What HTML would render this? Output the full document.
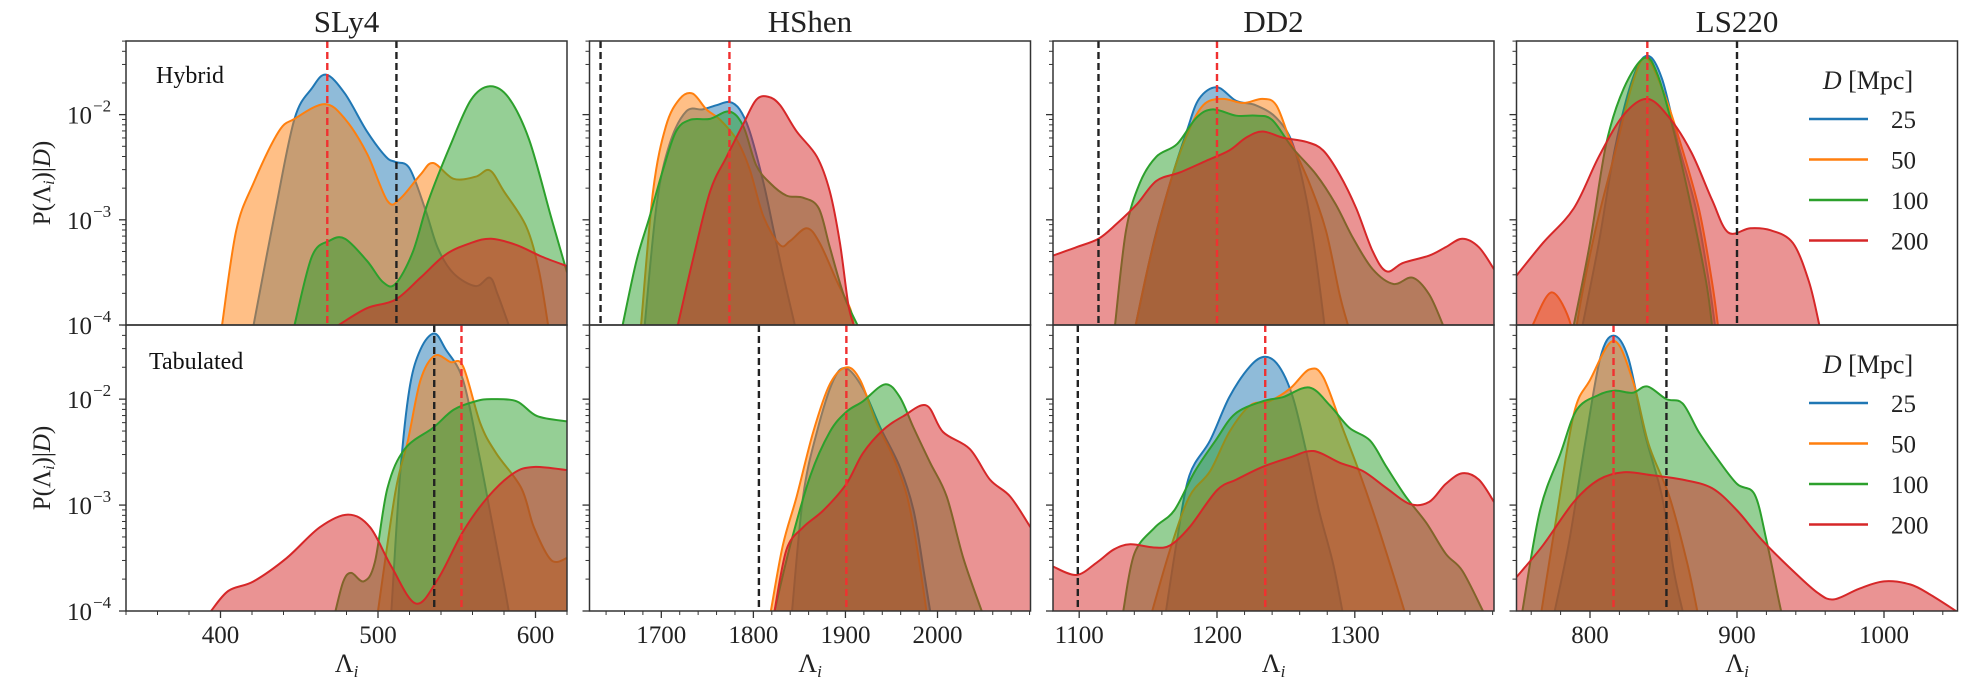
<!DOCTYPE html>
<html><head><meta charset="utf-8">
<style>
html,body{margin:0;padding:0;background:#fff;}
svg{display:block;font-family:"Liberation Serif",serif;}
</style></head>
<body>
<svg id="fig" width="1980" height="678" viewBox="0 0 1980 678" xmlns="http://www.w3.org/2000/svg"></svg>
<script>
// ---------- data (Lambda, log10 P) ----------
const eosNames = ["SLy4","HShen","DD2","LS220"];
const rowNames = ["Hybrid","Tabulated"];
const distances = ["25","50","100","200"];
const xDomains = [[340,620],[1622,2101],[1081,1401],[750,1050]];
const xTickValues = [[400,500,600],[1700,1800,1900,2000],[1100,1200,1300],[800,900,1000]];
const yTickExps = [-2,-3,-4];

// SLy4 Hybrid
const sly4H_25 = [[421,-4.0],[435,-2.9],[447,-2.04],[458,-1.75],[467,-1.62],[479,-1.80],[493,-2.16],[505,-2.4],[511,-2.45],[520,-2.51],[530,-2.9],[538,-3.27],[548,-3.51],[562,-3.63],[571,-3.55],[576,-3.71],[583,-4.0]];
const sly4H_50 = [[401,-4.0],[410,-3.1],[421,-2.65],[437,-2.16],[447,-2.04],[466,-1.90],[479,-2.04],[493,-2.37],[506,-2.82],[514,-2.80],[527,-2.57],[535,-2.46],[548,-2.61],[562,-2.59],[571,-2.53],[580,-2.73],[594,-3.06],[602,-3.47],[608,-4.0]];
const sly4H_100 = [[447,-4.0],[458,-3.35],[469,-3.20],[479,-3.18],[493,-3.39],[503,-3.59],[511,-3.61],[522,-3.31],[532,-2.82],[546,-2.29],[559,-1.86],[571,-1.73],[583,-1.84],[596,-2.24],[610,-2.98],[620,-3.50]];
const sly4H_200 = [[475,-4.0],[493,-3.84],[511,-3.76],[527,-3.55],[543,-3.33],[559,-3.22],[572,-3.18],[588,-3.24],[604,-3.35],[620,-3.44]];
// SLy4 Tabulated
const sly4T_25 = [[508.5,-4.0],[514,-2.72],[520,-1.90],[527,-1.53],[535.7,-1.38],[543,-1.53],[554,-1.82],[564,-2.51],[572,-3.13],[580,-3.75],[583,-4.0]];
const sly4T_50 = [[500,-4.0],[511,-2.88],[519,-2.39],[527,-1.82],[536,-1.59],[546,-1.65],[554,-1.69],[565,-2.23],[575,-2.51],[591,-2.84],[599,-3.21],[610,-3.52],[620,-3.50]];
const sly4T_100 = [[473,-4.0],[478,-3.72],[483,-3.64],[491,-3.72],[498,-3.54],[506,-2.84],[517,-2.47],[535,-2.27],[548,-2.10],[562,-2.02],[572,-2.00],[588,-2.02],[601,-2.16],[620,-2.21]];
const sly4T_200 = [[394,-4.0],[405,-3.81],[421,-3.72],[442,-3.50],[463,-3.21],[481,-3.09],[495,-3.21],[508.5,-3.58],[524,-3.93],[538,-3.70],[554,-3.25],[570,-2.92],[586,-2.70],[599,-2.64],[620,-2.67]];
// HShen Hybrid
const hshenH_25 = [[1682,-4.0],[1695,-2.85],[1709,-2.28],[1727,-1.97],[1745,-1.95],[1760,-1.91],[1774,-1.88],[1785,-1.95],[1796,-2.16],[1811,-2.65],[1822,-3.10],[1832,-3.51],[1845,-4.0]];
const hshenH_50 = [[1678,-4.0],[1691,-2.73],[1705,-2.11],[1720,-1.85],[1734,-1.80],[1749,-1.95],[1764,-2.05],[1782,-2.24],[1796,-2.52],[1811,-2.97],[1829,-3.24],[1840,-3.20],[1858,-3.08],[1872,-3.22],[1891,-3.59],[1905,-3.84],[1909,-4.0]];
const hshenH_100 = [[1658,-4.0],[1673,-3.39],[1687,-2.98],[1702,-2.52],[1716,-2.16],[1731,-2.05],[1753,-2.04],[1774,-1.97],[1789,-2.11],[1803,-2.48],[1818,-2.65],[1836,-2.77],[1854,-2.79],[1871,-2.89],[1883,-3.26],[1898,-3.71],[1913,-4.0]];
const hshenH_200 = [[1718,-4.0],[1734,-3.39],[1753,-2.73],[1771,-2.40],[1789,-2.09],[1803,-1.86],[1816,-1.83],[1829,-1.91],[1847,-2.16],[1869,-2.40],[1883,-2.73],[1894,-3.22],[1903,-3.80],[1909,-4.0]];
// HShen Tabulated
const hshenT_25 = [[1842,-4.0],[1854,-2.92],[1869,-2.31],[1887,-1.82],[1901,-1.71],[1919,-1.90],[1938,-2.27],[1959,-2.64],[1974,-3.05],[1985,-3.62],[1992,-4.0]];
const hshenT_50 = [[1819,-4.0],[1832,-3.38],[1847,-2.92],[1865,-2.31],[1883,-1.86],[1901,-1.70],[1916,-1.82],[1934,-2.23],[1952,-2.55],[1967,-2.92],[1978,-3.42],[1988,-4.0]];
const hshenT_100 = [[1823,-4.0],[1840,-3.38],[1862,-2.72],[1883,-2.31],[1901,-2.12],[1919,-2.02],[1943,-1.86],[1959,-1.98],[1974,-2.27],[1992,-2.60],[2010,-2.92],[2028,-3.50],[2048,-4.0]];
const hshenT_200 = [[1823,-4.0],[1836,-3.42],[1854,-3.21],[1876,-3.05],[1901,-2.80],[1919,-2.51],[1941,-2.29],[1963,-2.16],[1988,-2.06],[2006,-2.31],[2035,-2.47],[2057,-2.76],[2079,-2.92],[2101,-3.21]];
// DD2 Hybrid
const dd2H_25 = [[1141,-4.0],[1154,-3.22],[1166,-2.65],[1178,-2.16],[1187,-1.85],[1200,-1.74],[1214,-1.87],[1228,-1.91],[1243,-2.03],[1255,-2.28],[1265,-2.81],[1272,-3.39],[1278,-4.0]];
const dd2H_50 = [[1141,-4.0],[1151,-3.39],[1166,-2.65],[1178,-2.20],[1190,-1.91],[1204,-1.85],[1219,-1.89],[1233,-1.85],[1243,-1.91],[1253,-2.24],[1267,-2.65],[1279,-3.10],[1289,-3.71],[1295,-4.0]];
const dd2H_100 = [[1126,-4.0],[1134,-3.10],[1144,-2.65],[1156,-2.40],[1171,-2.28],[1185,-2.03],[1197,-1.95],[1214,-2.01],[1228,-2.01],[1240,-2.05],[1255,-2.32],[1272,-2.57],[1286,-2.85],[1299,-3.18],[1313,-3.47],[1328,-3.61],[1342,-3.55],[1354,-3.71],[1364,-4.0]];
const dd2H_200 = [[1081,-3.34],[1098,-3.26],[1114,-3.18],[1127,-3.04],[1142,-2.85],[1156,-2.63],[1173,-2.55],[1192,-2.44],[1209,-2.34],[1221,-2.22],[1233,-2.16],[1248,-2.22],[1265,-2.26],[1277,-2.34],[1289,-2.57],[1301,-2.89],[1313,-3.30],[1323,-3.49],[1335,-3.41],[1354,-3.34],[1366,-3.26],[1378,-3.18],[1390,-3.26],[1401,-3.47]];
// DD2 Tabulated
const dd2T_25 = [[1163,-4.0],[1171,-3.33],[1180,-2.72],[1195,-2.39],[1209,-1.98],[1224,-1.69],[1235,-1.60],[1245,-1.69],[1255,-1.98],[1265,-2.51],[1274,-3.05],[1284,-3.54],[1291,-4.0]];
const dd2T_50 = [[1153,-4.0],[1166,-3.42],[1180,-2.92],[1195,-2.68],[1209,-2.31],[1224,-2.06],[1238,-2.02],[1253,-1.90],[1267,-1.72],[1277,-1.79],[1291,-2.27],[1303,-2.68],[1315,-3.13],[1328,-3.66],[1336,-4.0]];
const dd2T_100 = [[1132,-4.0],[1140,-3.46],[1155,-3.21],[1169,-3.05],[1184,-2.68],[1199,-2.39],[1213,-2.14],[1233,-2.02],[1248,-1.98],[1267,-1.89],[1282,-2.06],[1296,-2.27],[1311,-2.39],[1323,-2.64],[1337,-2.92],[1352,-3.17],[1366,-3.46],[1378,-3.62],[1393,-4.0]];
const dd2T_200 = [[1081,-3.58],[1098,-3.66],[1113,-3.54],[1125,-3.42],[1137,-3.37],[1154,-3.40],[1166,-3.38],[1180,-3.21],[1200,-2.86],[1214,-2.76],[1233,-2.64],[1253,-2.55],[1270,-2.49],[1289,-2.60],[1306,-2.68],[1323,-2.84],[1340,-2.99],[1354,-2.97],[1366,-2.80],[1378,-2.70],[1390,-2.76],[1401,-2.97]];
// LS220 Hybrid
const ls220H_25 = [[795,-4.0],[806,-3.22],[817,-2.32],[829,-1.66],[839,-1.44],[849,-1.66],[860,-2.28],[872,-2.89],[880,-3.51],[885,-4.0]];
const ls220H_50 = [[761,-4.0],[774,-3.69],[787,-4.0],[789,-4.4],[791,-4.0],[803,-3.14],[817,-2.36],[829,-1.70],[838,-1.46],[849,-1.75],[860,-2.20],[874,-2.89],[883,-3.59],[887,-4.0]];
const ls220H_100 = [[789,-4.0],[800,-3.22],[811,-2.28],[823,-1.75],[837,-1.46],[846,-1.62],[857,-2.16],[869,-2.89],[879,-3.59],[883,-4.0]];
const ls220H_200 = [[750,-3.53],[768,-3.22],[789,-2.89],[806,-2.40],[823,-2.0],[839,-1.85],[854,-2.03],[869,-2.36],[883,-2.81],[894,-3.12],[909,-3.08],[923,-3.10],[938,-3.22],[949,-3.59],[956,-4.0]];
// LS220 Tabulated
const ls220T_25 = [[776,-4.0],[786,-3.33],[797,-2.39],[807,-1.61],[816,-1.40],[826,-1.61],[837,-2.31],[849,-2.92],[857,-3.62],[863,-4.0]];
const ls220T_50 = [[767,-4.0],[777,-3.13],[789,-2.14],[800,-1.82],[816,-1.45],[829,-1.82],[840,-2.43],[854,-2.92],[866,-3.54],[873,-4.0]];
const ls220T_100 = [[754,-4.0],[766,-3.05],[780,-2.51],[791,-2.10],[806,-1.96],[817,-1.92],[829,-1.94],[839,-1.88],[852,-2.0],[863,-2.04],[874,-2.31],[886,-2.55],[900,-2.80],[912,-2.90],[920,-3.33],[928,-3.87],[930,-4.0]];
const ls220T_200 = [[750,-3.68],[768,-3.38],[789,-2.97],[806,-2.76],[823,-2.69],[843,-2.72],[863,-2.76],[883,-2.84],[900,-3.05],[917,-3.33],[938,-3.62],[955,-3.83],[966,-3.89],[983,-3.79],[1000,-3.72],[1018,-3.75],[1032,-3.85],[1049,-4.0]];

const redLines = [[467.8,553],[1774,1901],[1200,1235],[839,816]];
const blackLines = [[511.7,535.7],[1634,1806],[1114,1099],[900,852]];

const seriesByPanel = [
  [[sly4H_25,sly4H_50,sly4H_100,sly4H_200],[sly4T_25,sly4T_50,sly4T_100,sly4T_200]],
  [[hshenH_25,hshenH_50,hshenH_100,hshenH_200],[hshenT_25,hshenT_50,hshenT_100,hshenT_200]],
  [[dd2H_25,dd2H_50,dd2H_100,dd2H_200],[dd2T_25,dd2T_50,dd2T_100,dd2T_200]],
  [[ls220H_25,ls220H_50,ls220H_100,ls220H_200],[ls220T_25,ls220T_50,ls220T_100,ls220T_200]]
];

// ---------- layout ----------
const NS = "http://www.w3.org/2000/svg";
const svg = document.getElementById('fig');
const colLeft = [126,589.5,1053,1516.5];
const panelW = 441;
const rowTop = [41,325];
const rowH = [284,286];
const yMinLog = -4, yMaxLog = -1.30;
const colors = ["#1f77b4","#ff7f0e","#2ca02c","#d62728"];

function mk(tag, attrs, parent){
  const e = document.createElementNS(NS, tag);
  for (const k in attrs) e.setAttribute(k, attrs[k]);
  (parent||svg).appendChild(e);
  return e;
}
function xScale(c, v){ const d=xDomains[c]; return colLeft[c] + (v-d[0])/(d[1]-d[0])*panelW; }
function yScale(r, lp){ return rowTop[r]+rowH[r] - (lp-yMinLog)/(yMaxLog-yMinLog)*rowH[r]; }

function smoothPath(pts){
  let d = "M"+pts[0][0].toFixed(2)+","+pts[0][1].toFixed(2);
  for (let i=0;i<pts.length-1;i++){
    const p0=pts[Math.max(0,i-1)], p1=pts[i], p2=pts[i+1], p3=pts[Math.min(pts.length-1,i+2)];
    const c1x=p1[0]+(p2[0]-p0[0])/6, c1y=p1[1]+(p2[1]-p0[1])/6;
    const c2x=p2[0]-(p3[0]-p1[0])/6, c2y=p2[1]-(p3[1]-p1[1])/6;
    d += " C"+c1x.toFixed(2)+","+c1y.toFixed(2)+" "+c2x.toFixed(2)+","+c2y.toFixed(2)+" "+p2[0].toFixed(2)+","+p2[1].toFixed(2);
  }
  return d;
}

const defs = mk('defs',{});
for (let c=0;c<4;c++){
  for (let r=0;r<2;r++){
    const cp = mk('clipPath',{id:'clip'+c+'_'+r}, defs);
    mk('rect',{x:colLeft[c],y:rowTop[r],width:panelW,height:rowH[r]}, cp);
    const g = mk('g',{'clip-path':'url(#clip'+c+'_'+r+')'});
    
    
    const series = seriesByPanel[c][r];
    const bottom = rowTop[r]+rowH[r]+2;
    for (let s=0;s<4;s++){
      const pts = series[s].map(p=>[xScale(c,p[0]), yScale(r,p[1])]);
      const line = smoothPath(pts);
      const fill = mk('path',{d: line+" L"+pts[pts.length-1][0].toFixed(2)+","+bottom+" L"+pts[0][0].toFixed(2)+","+bottom+" Z", fill:colors[s], 'fill-opacity':0.5, stroke:'none'}, g);
      
      
      const ln = mk('path',{d: line, fill:'none', stroke:colors[s], 'stroke-width':2}, g);
      
      
    }
    const rx = xScale(c, redLines[c][r]);
    const rl = mk('line',{x1:rx,x2:rx,y1:rowTop[r],y2:rowTop[r]+rowH[r],stroke:'#f03030','stroke-width':2.4,'stroke-dasharray':'7,4'}, g);
    
    
    const bx = xScale(c, blackLines[c][r]);
    const bl = mk('line',{x1:bx,x2:bx,y1:rowTop[r],y2:rowTop[r]+rowH[r],stroke:'#222','stroke-width':2.4,'stroke-dasharray':'7,4'}, g);
    
    

    for (let e=-4;e<=-2;e++){
      for (let m=1;m<=9;m++){
        const lp = e+Math.log10(m);
        if (lp>yMaxLog) continue;
        const y = yScale(r, lp);
        const t = mk('line',{x1:colLeft[c],x2:colLeft[c]-(m===1?7:4),y1:y,y2:y,stroke:'#333','stroke-width':m===1?1.3:1});
        
        
      }
    }
    const frame = mk('rect',{x:colLeft[c],y:rowTop[r],width:panelW,height:rowH[r],fill:'none',stroke:'#333','stroke-width':1.5});
    
    
  }
  const d = xDomains[c];
  const yb = rowTop[1]+rowH[1];
  for (let v=Math.ceil(d[0]/20)*20; v<=d[1]; v+=20){
    const major = xTickValues[c].indexOf(v)>=0;
    const x = xScale(c,v);
    const t = mk('line',{x1:x,x2:x,y1:yb,y2:yb+(major?7:4),stroke:'#333','stroke-width':major?1.3:1});
    
    
  }
  xTickValues[c].forEach(v=>{
    const t = mk('text',{x:xScale(c,v),y:643,'text-anchor':'middle','font-size':25,fill:'#222'});
    t.textContent = v;
    
    
  });
  const xl = mk('text',{x:colLeft[c]+panelW/2,y:672,'text-anchor':'middle','font-size':26,fill:'#222'});
  xl.innerHTML = 'Λ<tspan font-size="17" font-style="italic" dy="5">i</tspan>';
  
  
  const tt = mk('text',{x:colLeft[c]+panelW/2,y:32,'text-anchor':'middle','font-size':31,fill:'#222'});
  tt.textContent = eosNames[c];
  
  
}
for (let r=0;r<2;r++){
  yTickExps.forEach(e=>{
    const y = yScale(r,e);
    const t = mk('text',{x:92,y:y+9,'text-anchor':'end','font-size':25,fill:'#222'});
    t.textContent = '10';
    
    
    const s = mk('text',{x:93,y:y-3,'font-size':17,fill:'#222'});
    s.textContent = '−'+(-e);
    
    
  });
  const cy = rowTop[r]+rowH[r]/2;
  const yl = mk('text',{x:0,y:0,'text-anchor':'middle','font-size':25,fill:'#222',transform:'translate(50,'+cy+') rotate(-90)'});
  yl.innerHTML = 'P(Λ<tspan font-size="16" font-style="italic" dy="4">i</tspan><tspan dy="-4">)|</tspan><tspan font-style="italic">D</tspan>)';
  
  
  const rl = mk('text',{x:r===0?156:149,y:r===0?83:369,'font-size':24,fill:'#111'});
  rl.textContent = rowNames[r];
  
  
  const base = r===0?80:364;
  const lg = mk('g',{});
  
  
  const lt = mk('text',{x:1868,y:base+9,'text-anchor':'middle','font-size':26,fill:'#222'},lg);
  lt.innerHTML = '<tspan font-style="italic">D</tspan> [Mpc]';
  
  
  for (let s=0;s<4;s++){
    const y = base+39+s*40.5;
    const l = mk('line',{x1:1809,x2:1868,y1:y,y2:y,stroke:colors[s],'stroke-width':2.5},lg);
    
    
    const t = mk('text',{x:1891,y:y+9,'font-size':25,fill:'#222'},lg);
    t.textContent = distances[s];
    
    
  }
}
</script>
</body></html>
